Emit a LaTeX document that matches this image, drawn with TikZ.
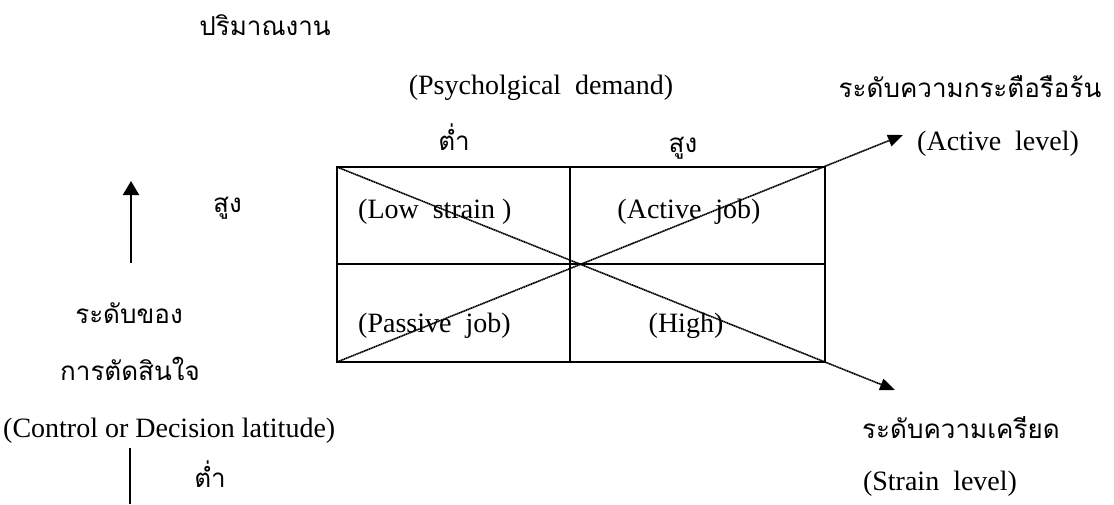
\documentclass[tikz,border=0pt]{standalone}
\usepackage{fontspec}
\setmainfont{Liberation Serif}
\newfontfamily\thaifont[Script=Thai]{Loma}
\usetikzlibrary{arrows.meta}
\tikzset{
	eng/.style={inner sep=0pt, anchor=base, font=\fontsize{28}{30}\selectfont},
	thai/.style={inner sep=0pt, anchor=base, font=\thaifont\fontsize{26}{30}\selectfont},
	gridline/.style={black, line width=1.5pt},
	diag/.style={black, line width=1.6pt, dash pattern=on 1.4pt off 0.5pt, -{Triangle[length=15pt,width=12pt]}},
	axis/.style={black, line width=2pt},
}
\begin{document}
\begin{tikzpicture}[x=1pt, y=-1pt]
	\useasboundingbox (0,0) rectangle (1114,504);
	\coordinate (tl) at (337,167);
	\coordinate (tr) at (825,167);
	\coordinate (bl) at (337,362);
	\coordinate (br) at (825,362);
	\coordinate (mt) at (570,167);
	\coordinate (mb) at (570,362);
	\coordinate (ml) at (337,264);
	\coordinate (mr) at (825,264);
	\coordinate (activetip) at (903,135);
	\coordinate (straintip) at (895,390);
	\coordinate (upfoot) at (131,263);
	\coordinate (uptip) at (131,181);
	\coordinate (bartop) at (130,448);
	\coordinate (barfoot) at (130,504);
	\draw[gridline] (tl) rectangle (br);
	\draw[gridline] (mt) -- (mb);
	\draw[gridline] (ml) -- (mr);
	\draw[diag] (bl) -- (activetip);
	\draw[diag] (tl) -- (straintip);
	\draw[axis, -{Triangle[length=14pt,width=16pt]}] (upfoot) -- (uptip);
	\draw[axis] (bartop) -- (barfoot);
	\node[thai] (workload) at (265,35) {ปริมาณงาน};
	\node[eng] (demand) at (541,94) {(Psycholgical\ \ demand)};
	\node[thai] (activeth) at (970,97) {ระดับความกระตือรือร้น};
	\node[thai] (lowtop) at (454,150) {ต่ำ};
	\node[thai] (hightop) at (683,152) {สูง};
	\node[eng, anchor=base west] (activelv) at (917,150) {(Active\ \ level)};
	\node[eng, anchor=base west] (lowstrain) at (358,218) {(Low\ \ strain )};
	\node[eng] (activejob) at (689,218) {(Active\ \ job)};
	\node[eng, anchor=base west] (passivejob) at (358,332) {(Passive\ \ job)};
	\node[eng] (highjob) at (686,332) {(High)};
	\node[thai, anchor=base west] (highleft) at (213,212) {สูง};
	\node[thai] (levelof) at (129,323) {ระดับของ};
	\node[thai] (decision) at (130,380) {การตัดสินใจ};
	\node[eng, anchor=base west] (control) at (3,437) {(Control or Decision latitude)};
	\node[thai] (lowleft) at (210,487) {ต่ำ};
	\node[thai, anchor=base west] (strainth) at (862,438) {ระดับความเครียด};
	\node[eng] (strainlv) at (940,490) {(Strain\ \ level)};
\end{tikzpicture}
\end{document}
